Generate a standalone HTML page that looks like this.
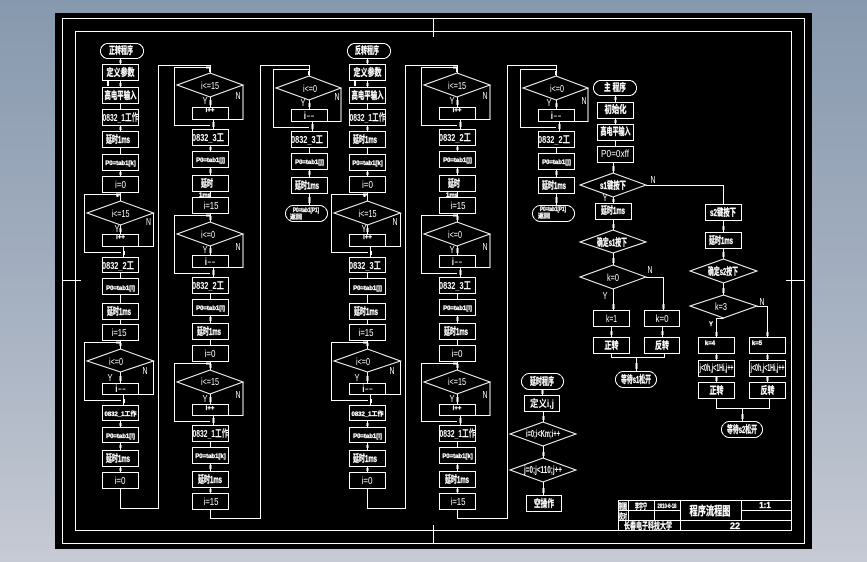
<!DOCTYPE html>
<html><head><meta charset="utf-8">
<style>
html,body{margin:0;padding:0;width:867px;height:562px;overflow:hidden;background:#a6b0c0}
svg{display:block}
.s{fill:none;stroke:#fff;stroke-width:1;shape-rendering:crispEdges}
.d{fill:none;stroke:#fff;stroke-width:1}
.a{fill:none;stroke:#fff;stroke-width:2.4;shape-rendering:crispEdges}
text{fill:#fff;font-family:"Liberation Sans","WenQuanYi Zen Hei","Noto Sans CJK SC",sans-serif;text-anchor:middle}
.c{font-size:10px;font-weight:bold;stroke:#fff;stroke-width:.3}
.l{font-size:10.5px}
.t{font-size:6px;font-weight:bold;stroke:#fff;stroke-width:.3}
.m{font-size:10px;font-weight:bold}
</style></head><body>
<svg width="867" height="562" viewBox="0 0 867 562" xmlns="http://www.w3.org/2000/svg">
<defs>
<linearGradient id="bg" x1="0" y1="0" x2="0" y2="1"><stop offset="0" stop-color="#8799ae"/><stop offset=".55" stop-color="#a6b1c1"/><stop offset="1" stop-color="#c6cad4"/></linearGradient>
<g id="cols">
<g class="s">
<rect x="100.5" y="43.5" width="43" height="15" rx="7.5"/>
<rect x="102.5" y="64.5" width="36" height="16"/><rect x="102.5" y="87.5" width="36" height="16"/><rect x="102.5" y="109.5" width="36" height="16"/><rect x="102.5" y="131.5" width="36" height="16"/><rect x="102.5" y="154.5" width="36" height="16"/><rect x="102.5" y="176.5" width="36" height="16"/><rect x="102.5" y="234.5" width="36" height="12"/><rect x="102.5" y="257.5" width="36" height="15"/><rect x="102.5" y="278.5" width="36" height="16"/><rect x="102.5" y="303.5" width="36" height="16"/><rect x="102.5" y="324.5" width="36" height="16"/><rect x="102.5" y="383.5" width="36" height="11"/><rect x="102.5" y="405.5" width="36" height="15"/><rect x="102.5" y="427.5" width="36" height="15"/><rect x="102.5" y="450.5" width="36" height="16"/><rect x="102.5" y="472.5" width="36" height="16"/>
<rect x="192.5" y="107.5" width="36" height="12"/><rect x="192.5" y="129.5" width="36" height="16"/><rect x="192.5" y="151.5" width="36" height="16"/><rect x="192.5" y="175.5" width="36" height="16"/><rect x="192.5" y="197.5" width="36" height="16"/><rect x="192.5" y="255.5" width="36" height="12"/><rect x="192.5" y="277.5" width="36" height="16"/><rect x="192.5" y="299.5" width="36" height="16"/><rect x="192.5" y="323.5" width="36" height="16"/><rect x="192.5" y="345.5" width="36" height="16"/><rect x="192.5" y="404.5" width="36" height="11"/><rect x="192.5" y="425.5" width="36" height="16"/><rect x="192.5" y="447.5" width="36" height="16"/><rect x="192.5" y="471.5" width="36" height="16"/><rect x="192.5" y="493.5" width="36" height="16"/>
<rect x="291.5" y="109.5" width="36" height="12"/><rect x="291.5" y="131.5" width="36" height="16"/><rect x="291.5" y="153.5" width="36" height="16"/><rect x="291.5" y="177.5" width="36" height="16"/><rect x="285.5" y="205.5" width="42" height="16" rx="8"/>
<path d="M120.5 58V64M120.5 80V87M120.5 103V109M120.5 125V131M120.5 147V154M120.5 170V176M120.5 192V201M120.5 225V234M153.5 213V246.5H123.5V257M121 252.5H84.5V194.5H120.5M120.5 272V278M120.5 294V303M120.5 319V324M120.5 340V349M120.5 372V383M153.5 361V394.5H123.5V405M121 400.5H84.5V342.5H120.5M120.5 420V427M120.5 442V450M120.5 466V472M120.5 488V508.5H158.5V65.5H210.5V73"/>
<path d="M210.5 97V107M243 85V119.5H213.5V129M210 125.5H174.5V67.5H210M210.5 145V151M210.5 167V175M210.5 191V197M210.5 213V222M210.5 246V255M243 234V267.5H213.5V277M210 273.5H174.5V215.5H210M210.5 293V299M210.5 315V323M210.5 339V345M210.5 362V370M210.5 394V404M243 382V415.5H213.5V425M210 421.5H174.5V363.5H210M210.5 441V447M210.5 463V471M210.5 487V493M210.5 509V518.5H260.5V65.5H309.5V76"/>
<path d="M309.5 100V109M341 88V121.5H312.5V131M309 127.5H273.5V69.5H309M309.5 147V153M309.5 169V177M309.5 193V205"/>
</g>
<g class="d">
<polygon points="87,213 120.5,201 153.5,213 120.5,225"/><polygon points="87,361 120.5,349 153.5,361 120.5,372"/>
<polygon points="177,85 210,73 243,85 210,97"/><polygon points="177,234 210,222 243,234 210,246"/><polygon points="177,382 210,370 243,382 210,394"/>
<polygon points="276,88 309,76 341,88 309,100"/>
</g>
<path class="a" d="M120.5 60V63M120.5 83V86M108 81V86M120.5 127V130M120.5 172V175M120.5 228V232M117.5 195V197M120.5 343V346M120.5 376V381M124 251V255M124 399V403M120.5 423V426M120.5 445V448M120.5 468V471M210 68V72M213.5 122V127M210.5 100V105M210.5 147V150M210.5 169V173M210.5 216V220M210.5 248V253M213.5 270V275M210.5 317V321M210.5 364V368M210.5 397V402M213.5 418V423M210.5 465V469M210.5 489V492M309 71V75M312.5 124V129M309.5 103V107M309.5 171V175M309.5 197V203M210 67.5H206M210 215.5H206M210 363.5H206M120 194.5H116M120 342.5H116"/>
</g>
</defs>
<rect width="867" height="562" fill="url(#bg)"/>
<rect x="55" y="13" width="757" height="536" fill="#000"/>
<g class="s">
<rect x="62.5" y="18.5" width="742" height="525"/>
<rect x="75.5" y="31.5" width="716" height="499"/>
<path d="M433.5 18V37M433.5 525V543M62 280.5H81M786 280.5H804"/>
</g>
<use href="#cols"/>
<use href="#cols" x="247"/>

<g class="s">
<rect x="593.5" y="80.5" width="43" height="15" rx="7.5"/>
<rect x="597.5" y="102.5" width="36" height="16"/><rect x="597.5" y="124.5" width="36" height="16"/><rect x="597.5" y="146.5" width="36" height="16"/>
<rect x="595.5" y="203.5" width="36" height="16"/>
<rect x="593.5" y="310.5" width="36" height="16"/><rect x="644.5" y="310.5" width="35" height="16"/><rect x="593.5" y="337.5" width="36" height="16"/><rect x="644.5" y="337.5" width="35" height="16"/>
<rect x="615.5" y="371.5" width="41" height="16" rx="8"/>
<rect x="705.5" y="204.5" width="36" height="16"/><rect x="705.5" y="232.5" width="36" height="16"/>
<rect x="698.5" y="337.5" width="36" height="16"/><rect x="749.5" y="337.5" width="36" height="16"/><rect x="698.5" y="360.5" width="36" height="16"/><rect x="749.5" y="360.5" width="36" height="16"/><rect x="698.5" y="382.5" width="36" height="16"/><rect x="749.5" y="382.5" width="36" height="16"/>
<rect x="721.5" y="421.5" width="41" height="16" rx="8"/>
<rect x="521.5" y="373.5" width="42" height="16" rx="8"/>
<rect x="524.5" y="395.5" width="35" height="16"/><rect x="526.5" y="495.5" width="35" height="16"/>
<path d="M615.5 95V102M615.5 118V124M615.5 140V146M613.5 162V173M613.5 197V203M613.5 219V230M613.5 253V265M613.5 289V310M646 277.5H663.5V310M611.5 326V337M662.5 326V337M611.5 353V357.5H664.5V353M636.5 357V371M646 185.5H723.5V204M723.5 220V232M723.5 248V259M723.5 283V295M723.5 318.5H716.5V337M757 306.5H767.5V337M716.5 353V360M767.5 353V360M716.5 376V382M767.5 376V382M716.5 398V408.5H769.5V398M742.5 408V421"/>
<path d="M542.5 389V395M543.5 411V422M543.5 446V458M543.5 482V495"/>
<rect x="618.5" y="500.5" width="173" height="30"/>
<path d="M628.5 500V520M654.5 500V520M680.5 500V530M741.5 500V520M618 520.5H792M741 510.5H792M618 510.5H680"/>
</g>
<g class="d">
<polygon points="580,185 613,173 646,185 613,197"/><polygon points="580,242 613,230 646,242 613,253"/><polygon points="580,277 613,265 646,277 613,289"/>
<polygon points="690,271 723.5,259 757,271 723.5,283"/><polygon points="690,306 723.5,295 757,306 723.5,318"/>
<polygon points="510,434 543,422 576,434 543,446"/><polygon points="510,470 543,458 576,470 543,482"/>
</g>
<path class="a" d="M615.5 97V100M615.5 120V123M613.5 166V171M613.5 199V202M613.5 224V228M613.5 258V263M613.5 304V309M663.5 304V309M611.5 331V335M662.5 331V335M636.5 363V369M723.5 226V230M723.5 252V257M723.5 288V293M716.5 332V336M767.5 332V336M716.5 355V359M767.5 355V359M716.5 377V381M767.5 377V381M742.5 414V419M542.5 390V394M543.5 416V420M543.5 452V456M543.5 488V493"/>

<!-- column A -->
<text class="c" x="121" y="54" textLength="24" lengthAdjust="spacingAndGlyphs">正转程序</text>
<text class="c" x="120.5" y="76" textLength="28" lengthAdjust="spacingAndGlyphs">定义参数</text><text class="c" x="120.5" y="99" textLength="32" lengthAdjust="spacingAndGlyphs">高电平输入</text>
<text class="m" x="120.5" y="121" textLength="36" lengthAdjust="spacingAndGlyphs">0832_1工作</text><text class="c" x="118" y="143" textLength="24" lengthAdjust="spacingAndGlyphs">延时1ms</text>
<text class="t" x="120.5" y="165">P0=tab1[k]</text><text class="l" x="120.5" y="188" textLength="11" lengthAdjust="spacingAndGlyphs">i=0</text><text class="l" x="120.5" y="217" textLength="18" lengthAdjust="spacingAndGlyphs">i&lt;=15</text>
<text class="t" x="120.5" y="239">i++</text><text class="l" x="117" y="232" textLength="5" lengthAdjust="spacingAndGlyphs">Y</text><text class="l" x="148.5" y="225" textLength="5" lengthAdjust="spacingAndGlyphs">N</text>
<text class="m" x="118" y="269" textLength="32" lengthAdjust="spacingAndGlyphs">0832_2工</text><text class="t" x="120.5" y="290">P0=tab1[l]</text>
<text class="c" x="119" y="315" textLength="24" lengthAdjust="spacingAndGlyphs">延时1ms</text><text class="l" x="119" y="336" textLength="15" lengthAdjust="spacingAndGlyphs">i=15</text><text class="l" x="116" y="365" textLength="14" lengthAdjust="spacingAndGlyphs">i&lt;=0</text>
<text class="l" x="110" y="381" textLength="5" lengthAdjust="spacingAndGlyphs">Y</text><text class="l" x="145" y="374" textLength="5" lengthAdjust="spacingAndGlyphs">N</text><text class="l" x="120.5" y="392" textLength="11" lengthAdjust="spacingAndGlyphs">i--</text>
<text class="t" x="120.5" y="416">0832_1工作</text><text class="t" x="120.5" y="438">P0=tab1[i]</text><text class="c" x="118" y="462" textLength="24" lengthAdjust="spacingAndGlyphs">延时1ms</text><text class="l" x="120" y="484" textLength="11" lengthAdjust="spacingAndGlyphs">i=0</text>
<!-- column B -->
<text class="l" x="210" y="89" textLength="18" lengthAdjust="spacingAndGlyphs">i&lt;=15</text><text class="l" x="205" y="104" textLength="5" lengthAdjust="spacingAndGlyphs">Y</text><text class="l" x="238" y="99" textLength="5" lengthAdjust="spacingAndGlyphs">N</text><text class="t" x="210" y="112">i++</text>
<text class="m" x="208" y="141" textLength="32" lengthAdjust="spacingAndGlyphs">0832_3工</text><text class="t" x="210.5" y="162">P0=tab1[j]</text><text class="c" x="207" y="187" textLength="12" lengthAdjust="spacingAndGlyphs">延时</text><text class="t" x="205" y="197">1ms</text>
<text class="l" x="211" y="209" textLength="15" lengthAdjust="spacingAndGlyphs">i=15</text><text class="l" x="208" y="238" textLength="14" lengthAdjust="spacingAndGlyphs">i&lt;=0</text><text class="l" x="205" y="253" textLength="5" lengthAdjust="spacingAndGlyphs">Y</text><text class="l" x="238" y="250" textLength="5" lengthAdjust="spacingAndGlyphs">N</text><text class="l" x="210" y="265" textLength="11" lengthAdjust="spacingAndGlyphs">i--</text>
<text class="m" x="208" y="289" textLength="32" lengthAdjust="spacingAndGlyphs">0832_2工</text><text class="t" x="210.5" y="310">P0=tab1[i]</text><text class="c" x="209" y="335" textLength="24" lengthAdjust="spacingAndGlyphs">延时1ms</text>
<text class="l" x="210" y="357" textLength="11" lengthAdjust="spacingAndGlyphs">i=0</text><text class="l" x="210" y="385" textLength="18" lengthAdjust="spacingAndGlyphs">i&lt;=15</text><text class="l" x="205" y="402" textLength="5" lengthAdjust="spacingAndGlyphs">Y</text><text class="l" x="238" y="398" textLength="5" lengthAdjust="spacingAndGlyphs">N</text><text class="t" x="210" y="410">i++</text>
<text class="m" x="210.5" y="437" textLength="36" lengthAdjust="spacingAndGlyphs">0832_1工作</text><text class="t" x="210.5" y="458">P0=tab1[k]</text><text class="c" x="210" y="483" textLength="24" lengthAdjust="spacingAndGlyphs">延时1ms</text><text class="l" x="211" y="505" textLength="15" lengthAdjust="spacingAndGlyphs">i=15</text>
<!-- column C -->
<text class="l" x="310" y="92" textLength="14" lengthAdjust="spacingAndGlyphs">i&lt;=0</text><text class="l" x="303" y="106" textLength="5" lengthAdjust="spacingAndGlyphs">Y</text><text class="l" x="337" y="100" textLength="5" lengthAdjust="spacingAndGlyphs">N</text><text class="l" x="309" y="119" textLength="11" lengthAdjust="spacingAndGlyphs">i--</text>
<text class="m" x="307" y="143" textLength="32" lengthAdjust="spacingAndGlyphs">0832_3工</text><text class="t" x="309.5" y="164">P0=tab1[j]</text><text class="c" x="307" y="189" textLength="24" lengthAdjust="spacingAndGlyphs">延时1ms</text>
<text class="t" x="306" y="212" textLength="26" lengthAdjust="spacingAndGlyphs">P0=tab1[P1]</text><text class="t" x="296" y="219">返回</text>
<!-- column D -->
<text class="c" x="367" y="54" textLength="24" lengthAdjust="spacingAndGlyphs">反转程序</text>
<text class="c" x="367.5" y="76" textLength="28" lengthAdjust="spacingAndGlyphs">定义参数</text><text class="c" x="367.5" y="99" textLength="32" lengthAdjust="spacingAndGlyphs">高电平输入</text>
<text class="m" x="367.5" y="121" textLength="36" lengthAdjust="spacingAndGlyphs">0832_1工作</text><text class="c" x="365" y="143" textLength="24" lengthAdjust="spacingAndGlyphs">延时1ms</text>
<text class="t" x="367.5" y="165">P0=tab1[k]</text><text class="l" x="367.5" y="188" textLength="11" lengthAdjust="spacingAndGlyphs">i=0</text><text class="l" x="367.5" y="217" textLength="18" lengthAdjust="spacingAndGlyphs">i&lt;=15</text>
<text class="t" x="367.5" y="239">i++</text><text class="l" x="364" y="232" textLength="5" lengthAdjust="spacingAndGlyphs">Y</text><text class="l" x="395" y="225" textLength="5" lengthAdjust="spacingAndGlyphs">N</text>
<text class="m" x="365" y="269" textLength="32" lengthAdjust="spacingAndGlyphs">0832_3工</text><text class="t" x="367.5" y="290">P0=tab1[j]</text>
<text class="c" x="366" y="315" textLength="24" lengthAdjust="spacingAndGlyphs">延时1ms</text><text class="l" x="366" y="336" textLength="15" lengthAdjust="spacingAndGlyphs">i=15</text><text class="l" x="363" y="365" textLength="14" lengthAdjust="spacingAndGlyphs">i&lt;=0</text>
<text class="l" x="357" y="381" textLength="5" lengthAdjust="spacingAndGlyphs">Y</text><text class="l" x="392" y="374" textLength="5" lengthAdjust="spacingAndGlyphs">N</text><text class="l" x="367.5" y="392" textLength="11" lengthAdjust="spacingAndGlyphs">i--</text>
<text class="t" x="367.5" y="416">0832_1工作</text><text class="t" x="367.5" y="438">P0=tab1[i]</text><text class="c" x="365" y="462" textLength="24" lengthAdjust="spacingAndGlyphs">延时1ms</text><text class="l" x="367" y="484" textLength="11" lengthAdjust="spacingAndGlyphs">i=0</text>
<!-- column E -->
<text class="l" x="457" y="89" textLength="18" lengthAdjust="spacingAndGlyphs">i&lt;=15</text><text class="l" x="452" y="104" textLength="5" lengthAdjust="spacingAndGlyphs">Y</text><text class="l" x="485" y="99" textLength="5" lengthAdjust="spacingAndGlyphs">N</text><text class="t" x="457" y="112">i++</text>
<text class="m" x="455" y="141" textLength="32" lengthAdjust="spacingAndGlyphs">0832_2工</text><text class="t" x="457.5" y="162">P0=tab1[j]</text><text class="c" x="454" y="187" textLength="12" lengthAdjust="spacingAndGlyphs">延时</text><text class="t" x="452" y="197">1ms</text>
<text class="l" x="458" y="209" textLength="15" lengthAdjust="spacingAndGlyphs">i=15</text><text class="l" x="455" y="238" textLength="14" lengthAdjust="spacingAndGlyphs">i&lt;=0</text><text class="l" x="452" y="253" textLength="5" lengthAdjust="spacingAndGlyphs">Y</text><text class="l" x="485" y="250" textLength="5" lengthAdjust="spacingAndGlyphs">N</text><text class="l" x="457" y="265" textLength="11" lengthAdjust="spacingAndGlyphs">i--</text>
<text class="m" x="455" y="289" textLength="32" lengthAdjust="spacingAndGlyphs">0832_3工</text><text class="t" x="457.5" y="310">P0=tab1[i]</text><text class="c" x="456" y="335" textLength="24" lengthAdjust="spacingAndGlyphs">延时1ms</text>
<text class="l" x="457" y="357" textLength="11" lengthAdjust="spacingAndGlyphs">i=0</text><text class="l" x="457" y="385" textLength="18" lengthAdjust="spacingAndGlyphs">i&lt;=15</text><text class="l" x="452" y="402" textLength="5" lengthAdjust="spacingAndGlyphs">Y</text><text class="l" x="485" y="398" textLength="5" lengthAdjust="spacingAndGlyphs">N</text><text class="t" x="457" y="410">i++</text>
<text class="m" x="457.5" y="437" textLength="36" lengthAdjust="spacingAndGlyphs">0832_1工作</text><text class="t" x="457.5" y="458">P0=tab1[k]</text><text class="c" x="457" y="483" textLength="24" lengthAdjust="spacingAndGlyphs">延时1ms</text><text class="l" x="458" y="505" textLength="15" lengthAdjust="spacingAndGlyphs">i=15</text>
<!-- column F -->
<text class="l" x="557" y="92" textLength="14" lengthAdjust="spacingAndGlyphs">i&lt;=0</text><text class="l" x="549" y="106" textLength="5" lengthAdjust="spacingAndGlyphs">Y</text><text class="l" x="584" y="104" textLength="5" lengthAdjust="spacingAndGlyphs">N</text><text class="l" x="556" y="119" textLength="11" lengthAdjust="spacingAndGlyphs">i--</text>
<text class="m" x="554" y="143" textLength="32" lengthAdjust="spacingAndGlyphs">0832_2工</text><text class="t" x="556.5" y="164">P0=tab1[j]</text><text class="c" x="554" y="189" textLength="24" lengthAdjust="spacingAndGlyphs">延时1ms</text>
<text class="t" x="553" y="211" textLength="26" lengthAdjust="spacingAndGlyphs">P0=tab1[P1]</text><text class="t" x="544" y="218">返回</text>
<!-- main -->
<text class="c" x="615" y="91" textLength="22" lengthAdjust="spacingAndGlyphs">主 程序</text><text class="c" x="615.5" y="113" textLength="22" lengthAdjust="spacingAndGlyphs">初始化</text><text class="c" x="615.5" y="135" textLength="30" lengthAdjust="spacingAndGlyphs">高电平输入</text><text class="l" x="615" y="157" textLength="28" lengthAdjust="spacingAndGlyphs">P0=0xff</text>
<text class="c" x="613" y="189" textLength="26" lengthAdjust="spacingAndGlyphs">s1键按下</text><text class="l" x="653" y="183" textLength="5" lengthAdjust="spacingAndGlyphs">N</text><text class="l" x="605" y="201" textLength="5" lengthAdjust="spacingAndGlyphs">Y</text>
<text class="c" x="613" y="214" textLength="24" lengthAdjust="spacingAndGlyphs">延时1ms</text><text class="c" x="612" y="246" textLength="30" lengthAdjust="spacingAndGlyphs">确定s1按下</text>
<text class="l" x="613" y="281" textLength="12" lengthAdjust="spacingAndGlyphs">k=0</text><text class="l" x="650" y="273" textLength="5" lengthAdjust="spacingAndGlyphs">N</text><text class="l" x="605" y="299" textLength="5" lengthAdjust="spacingAndGlyphs">Y</text>
<text class="l" x="611.5" y="322" textLength="11" lengthAdjust="spacingAndGlyphs">k=1</text><text class="l" x="662" y="322" textLength="13" lengthAdjust="spacingAndGlyphs">k=0</text><text class="c" x="611.5" y="349" textLength="14" lengthAdjust="spacingAndGlyphs">正转</text><text class="c" x="662" y="349" textLength="14" lengthAdjust="spacingAndGlyphs">反转</text>
<text class="c" x="636" y="383" textLength="30" lengthAdjust="spacingAndGlyphs">等待s1松开</text>
<text class="c" x="723" y="216" textLength="26" lengthAdjust="spacingAndGlyphs">s2键按下</text><text class="c" x="721" y="244" textLength="24" lengthAdjust="spacingAndGlyphs">延时1ms</text><text class="c" x="723" y="275" textLength="30" lengthAdjust="spacingAndGlyphs">确定s2按下</text>
<text class="l" x="721" y="310" textLength="12" lengthAdjust="spacingAndGlyphs">k=3</text><text class="l" x="762" y="305" textLength="5" lengthAdjust="spacingAndGlyphs">N</text><text class="t" x="711" y="326">Y</text>
<text class="t" x="710" y="345">k=4</text><text class="t" x="757" y="345">k=5</text>
<text class="m" x="716.5" y="371" textLength="34" lengthAdjust="spacingAndGlyphs">j&lt;0h,j&lt;1Hi,j++</text><text class="m" x="767.5" y="371" textLength="34" lengthAdjust="spacingAndGlyphs">j&lt;0h,j&lt;1Hi,j++</text>
<text class="c" x="716.5" y="394" textLength="14" lengthAdjust="spacingAndGlyphs">正转</text><text class="c" x="767.5" y="394" textLength="14" lengthAdjust="spacingAndGlyphs">反转</text><text class="c" x="742" y="433" textLength="30" lengthAdjust="spacingAndGlyphs">等待s2松开</text>
<!-- delay -->
<text class="c" x="542" y="385" textLength="24" lengthAdjust="spacingAndGlyphs">延时程序</text><text class="m" x="542" y="407" textLength="24" lengthAdjust="spacingAndGlyphs">定义i,j</text>
<text class="m" x="543" y="437" textLength="34" lengthAdjust="spacingAndGlyphs">i=0;i&lt;Km;i++</text><text class="m" x="543" y="473" textLength="38" lengthAdjust="spacingAndGlyphs">j=0;j&lt;110;j++</text><text class="c" x="544" y="507" textLength="20" lengthAdjust="spacingAndGlyphs">空操作</text>
<!-- title block -->
<text class="t" x="623" y="509" style="font-size:8px" textLength="8" lengthAdjust="spacingAndGlyphs">制图</text><text class="t" x="623" y="519" style="font-size:8px" textLength="8" lengthAdjust="spacingAndGlyphs">校对</text><text class="t" x="641" y="509" style="font-size:8px" textLength="12" lengthAdjust="spacingAndGlyphs">李宇宁</text><text class="t" x="667" y="508" textLength="19" lengthAdjust="spacingAndGlyphs">2010-6-18</text>
<text class="c" x="710" y="515" style="font-size:12px" textLength="41" lengthAdjust="spacingAndGlyphs">程序流程图</text><text class="t" x="765" y="508" style="font-size:8px">1:1</text>
<text class="c" x="648" y="529" style="font-size:9px" textLength="48" lengthAdjust="spacingAndGlyphs">长春电子科技大学</text><text class="t" x="735" y="529" style="font-size:9px">22</text>
</svg>
</body></html>
